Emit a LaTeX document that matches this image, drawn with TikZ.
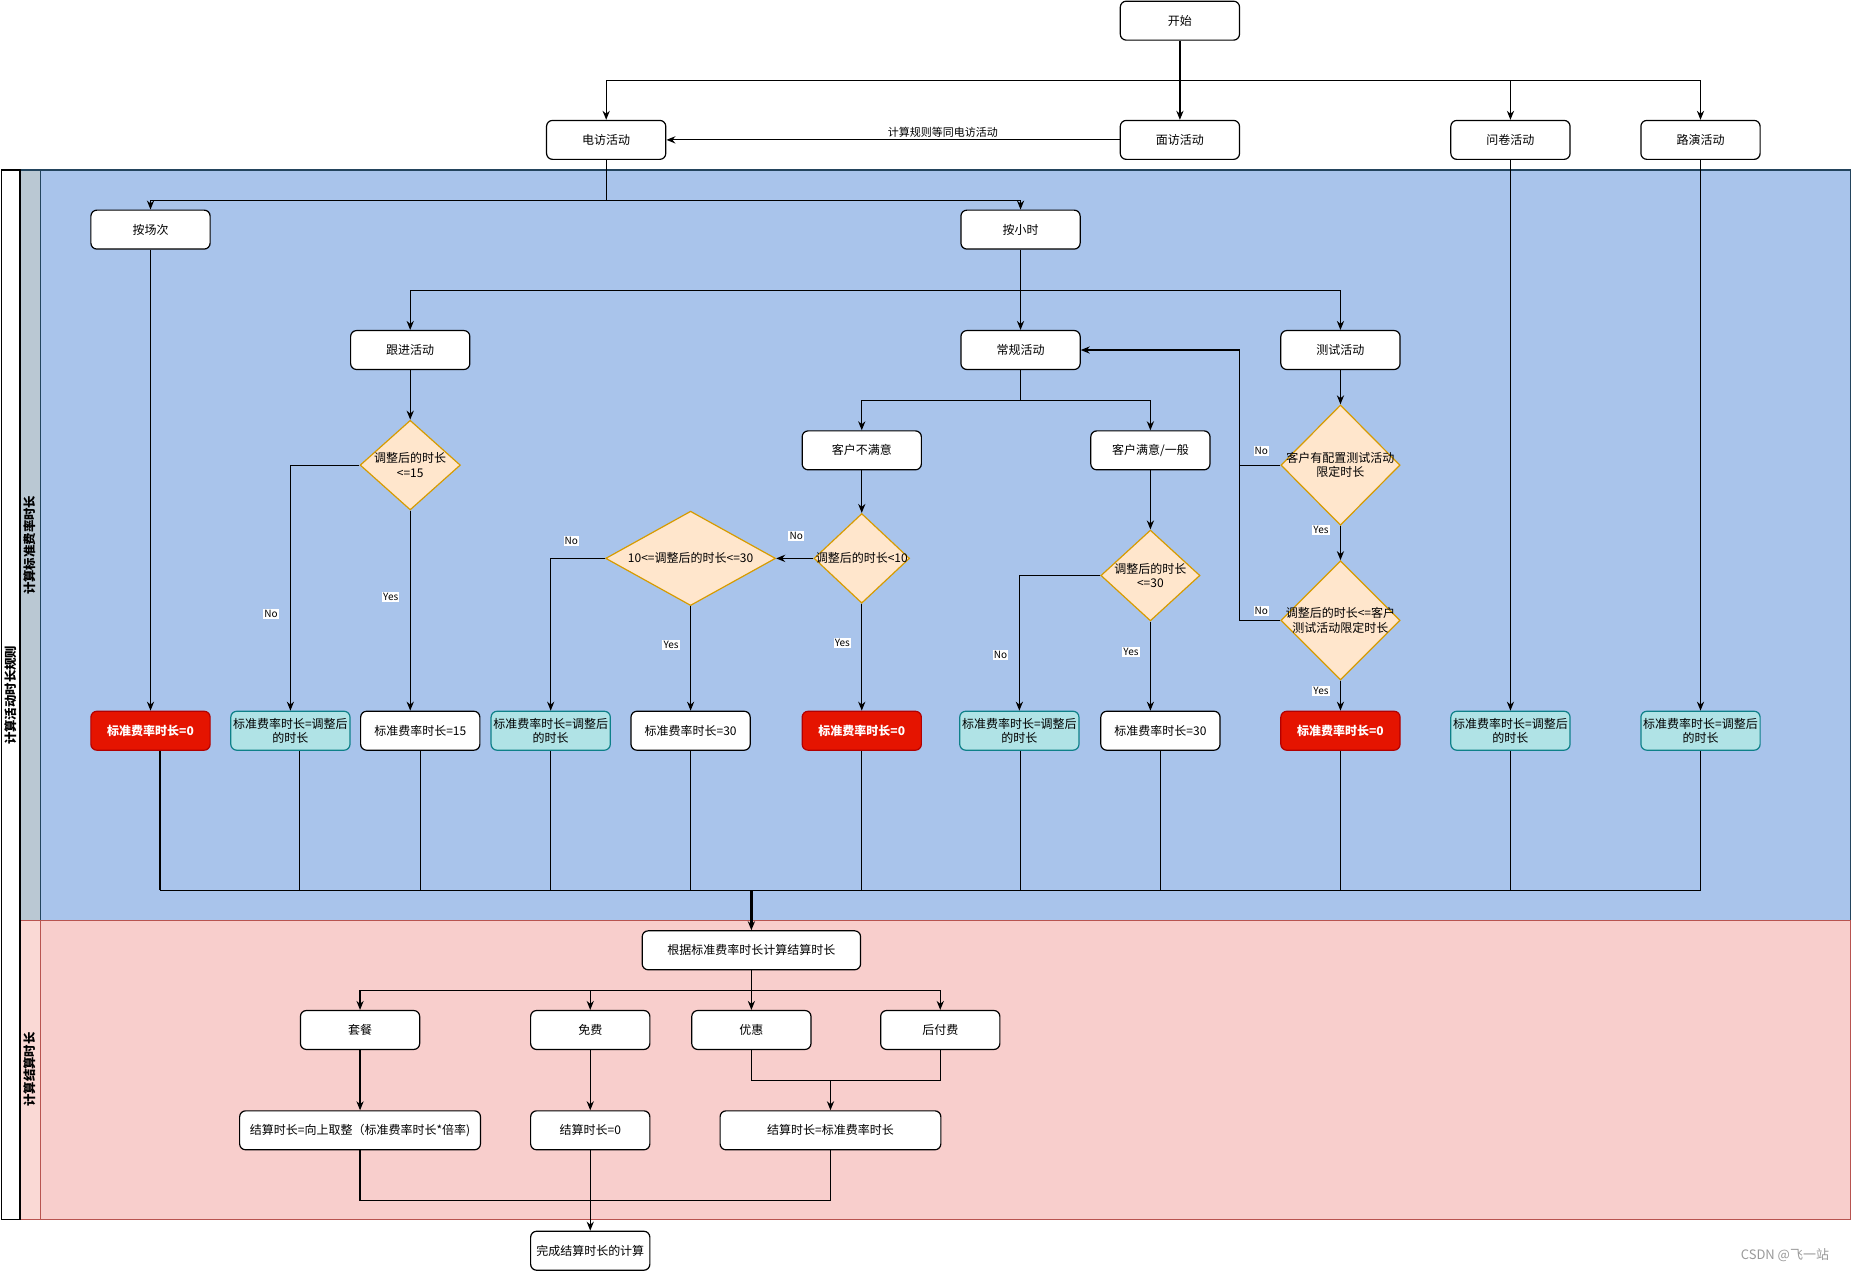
\documentclass[tikz,border=0pt]{standalone}
\usepackage{fontspec}
\setmainfont{Noto Sans CJK SC}
\usetikzlibrary{arrows.meta, shapes.geometric}
\newlength\unitpx
\setlength\unitpx{0.5903pt}
\definecolor{laneblue}{HTML}{A9C4EB}
\definecolor{headblue}{HTML}{BAC8D3}
\definecolor{borderblue}{HTML}{23445D}
\definecolor{lanepink}{HTML}{F8CECC}
\definecolor{headpink}{HTML}{FAD9D5}
\definecolor{borderpink}{HTML}{B85450}
\definecolor{diafill}{HTML}{FFE6CC}
\definecolor{diadraw}{HTML}{D79B00}
\definecolor{tealfill}{HTML}{B0E3E6}
\definecolor{tealdraw}{HTML}{0E8088}
\definecolor{redfill}{HTML}{E51400}
\definecolor{reddraw}{HTML}{B20000}

\tikzset{
	box/.style={draw, fill=white, rounded corners=3pt, minimum width=101\unitpx, minimum height=33\unitpx, inner sep=1pt, align=center, font=\fontsize{6}{7.2}\selectfont},
	zero/.style={box, fill=redfill, draw=reddraw, text=white, font=\fontsize{6}{7.2}\selectfont\bfseries},
	adj/.style={box, fill=tealfill, draw=tealdraw},
	dia/.style={diamond, draw=diadraw, fill=diafill, inner sep=0pt},
	dtext/.style={inner sep=0pt, align=center, font=\fontsize{6}{7.2}\selectfont},
	lbl/.style={fill=white, inner sep=0.6pt, font=\fontsize{5}{6}\selectfont},
	lanetitle/.style={rotate=90, font=\fontsize{6.2}{7.4}\selectfont\bfseries},
}

\begin{document}
\begin{tikzpicture}[>={Stealth[length=4.5pt,width=3.6pt]}, x=\unitpx, y=-\unitpx, line width=0.6pt]
	\useasboundingbox (0,0) rectangle (1568,1077);
	% Pool and lanes
	\fill[headblue] (17,144) rectangle (34,780);
	\fill[laneblue] (34,144) rectangle (1568,780);
	\fill[headpink] (17,780) rectangle (34,1033);
	\fill[lanepink] (34,780) rectangle (1568,1033);
	\draw[borderblue] (17,144) rectangle (1568,780);
	\draw[borderblue] (34,144) -- (34,780);
	\draw[borderpink] (17,780) rectangle (1568,1033);
	\draw[borderpink] (34,780) -- (34,1033);
	\draw (1,144) rectangle (17,1033);
	\node[lanetitle] (pooltitle) at (9,589) {计算活动时长规则};
	\node[lanetitle] (lanetitleA) at (25.5,462) {计算标准费率时长};
	\node[lanetitle] (lanetitleB) at (25.5,906) {计算结算时长};

	% Top row
	\node[box] (start) at (999.5,17.5) {开始};
	\node[box] (dianfang) at (513.5,118.5) {电访活动};
	\node[box] (mianfang) at (999.5,118.5) {面访活动};
	\node[box] (wenjuan) at (1279.5,118.5) {问卷活动};
	\node[box] (luyan) at (1440.5,118.5) {路演活动};
	\coordinate (splitTop) at (999.5,68);
	\draw[->] (start) -- (mianfang);
	\draw[->] (splitTop) -| (dianfang.north);
	\draw[->] (splitTop) -| (wenjuan.north);
	\draw[->] (splitTop) -| (luyan.north);
	\draw[->] (mianfang) -- node[pos=0.39, above=1pt, inner sep=0pt, font=\fontsize{5.5}{6.5}\selectfont] {计算规则等同电访活动} (dianfang);

	% Blue lane
	\node[box] (changci) at (127.5,194.5) {按场次};
	\node[box] (xiaoshi) at (864.5,194.5) {按小时};
	\coordinate (splitA) at (513.5,170);
	\draw (dianfang.south) -- (splitA);
	\draw[->] (splitA) -| (changci.north);
	\draw[->] (splitA) -| (xiaoshi.north);

	\node[box] (genjin) at (347.5,296.5) {跟进活动};
	\node[box] (changgui) at (864.5,296.5) {常规活动};
	\node[box] (ceshi) at (1135.5,296.5) {测试活动};
	\coordinate (splitB) at (864.5,246);
	\draw (xiaoshi.south) -- (splitB);
	\draw[->] (splitB) -| (genjin.north);
	\draw[->] (splitB) -- (changgui.north);
	\draw[->] (splitB) -| (ceshi.north);

	\node[box] (bumanyi) at (730,381.5) {客户不满意};
	\node[box] (manyi) at (974.5,381.5) {客户满意/一般};
	\coordinate (splitC) at (864.5,339);
	\draw (changgui.south) -- (splitC);
	\draw[->] (splitC) -| (bumanyi.north);
	\draw[->] (splitC) -| (manyi.north);

	% Decisions
	\node[dia, minimum width=85\unitpx, minimum height=76\unitpx, label={[dtext]center:调整后的时长\\<=15}] (dGenjin) at (347.5,394) {};
	\node[dia, minimum width=81\unitpx, minimum height=76\unitpx, label={[dtext]center:调整后的时长<10}] (dLess) at (730,473) {};
	\node[dia, minimum width=144\unitpx, minimum height=80\unitpx, label={[dtext]center:10<=调整后的时长<=30}] (dRange) at (585,473) {};
	\node[dia, minimum width=84\unitpx, minimum height=77\unitpx, label={[dtext]center:调整后的时长\\<=30}] (dManyi) at (974.5,487.5) {};
	\node[dia, minimum width=101\unitpx, minimum height=102\unitpx, label={[dtext]center:客户有配置测试活动\\限定时长}] (dPeizhi) at (1135.5,394) {};
	\node[dia, minimum width=101\unitpx, minimum height=101\unitpx, label={[dtext]center:调整后的时长<=客户\\测试活动限定时长}] (dXianding) at (1135.5,525.5) {};

	% Results
	\node[zero] (resChangci) at (127.5,619) {标准费率时长=0};
	\node[adj] (resGenjinNo) at (246,619) {标准费率时长=调整后\\的时长};
	\node[box] (resGenjinYes) at (356,619) {标准费率时长=15};
	\node[adj] (resRangeNo) at (466.5,619) {标准费率时长=调整后\\的时长};
	\node[box] (resRangeYes) at (585,619) {标准费率时长=30};
	\node[zero] (resLess) at (730,619) {标准费率时长=0};
	\node[adj] (resManyiNo) at (863.5,619) {标准费率时长=调整后\\的时长};
	\node[box] (resManyiYes) at (983,619) {标准费率时长=30};
	\node[zero] (resCeshi) at (1135.5,619) {标准费率时长=0};
	\node[adj] (resWenjuan) at (1279.5,619) {标准费率时长=调整后\\的时长};
	\node[adj] (resLuyan) at (1440.5,619) {标准费率时长=调整后\\的时长};

	\draw[->] (changci) -- (resChangci);
	\draw[->] (genjin) -- (dGenjin);
	\draw[->] (dGenjin.west) -| (resGenjinNo.north);
	\draw[->] (dGenjin.south) -- (dGenjin.south |- resGenjinYes.north);
	\draw[->] (bumanyi) -- (dLess);
	\draw[->] (dLess.west) -- (dRange.east);
	\draw[->] (dLess.south) -- (resLess.north);
	\draw[->] (dRange.west) -| (resRangeNo.north);
	\draw[->] (dRange.south) -- (resRangeYes.north);
	\draw[->] (manyi) -- (dManyi);
	\draw[->] (dManyi.west) -| (resManyiNo.north);
	\draw[->] (dManyi.south) -- (dManyi.south |- resManyiYes.north);
	\draw[->] (ceshi) -- (dPeizhi);
	\draw[->] (dPeizhi) -- (dXianding);
	\draw[->] (dXianding) -- (resCeshi);
	\coordinate (back) at (1050,296.5);
	\draw[->] (dPeizhi.west) -| (back) -- (changgui.east);
	\draw (dXianding.west) -| (back);
	\draw[->] (wenjuan) -- (resWenjuan);
	\draw[->] (luyan) -- (resLuyan);

	% Yes / No
	\node[lbl] (noA) at (229.5,520) {No};
	\node[lbl] (yesA) at (331,506) {Yes};
	\node[lbl] (noB) at (484,458) {No};
	\node[lbl] (yesB) at (568.5,546.5) {Yes};
	\node[lbl] (noC) at (674.5,454) {No};
	\node[lbl] (yesC) at (713.5,545) {Yes};
	\node[lbl] (noD) at (847.5,555) {No};
	\node[lbl] (yesD) at (958,552.5) {Yes};
	\node[lbl] (noE) at (1068.5,382) {No};
	\node[lbl] (yesE) at (1119,449) {Yes};
	\node[lbl] (noF) at (1068.5,517.5) {No};
	\node[lbl] (yesF) at (1119,585.5) {Yes};

	% Merge
	\coordinate (merge) at (636.5,754);
	\foreach \r/\dx in {resChangci/8, resGenjinNo/8, resGenjinYes/0, resRangeNo/0, resRangeYes/0, resLess/0, resManyiNo/1, resManyiYes/0, resCeshi/0, resWenjuan/0, resLuyan/0}
		\draw ([xshift=\dx\unitpx]\r.south) -- ([xshift=\dx\unitpx]\r.south |- merge);
	\draw ([xshift=8\unitpx]resChangci.south |- merge) -- (resLuyan.south |- merge);

	% Pink lane
	\node[box, minimum width=185\unitpx] (jisuan) at (636.5,805) {根据标准费率时长计算结算时长};
	\draw[->, line width=1.2pt] (merge) -- (jisuan.north);
	\node[box] (taocan) at (305,872.5) {套餐};
	\node[box] (mianfei) at (500,872.5) {免费};
	\node[box] (youhui) at (636.5,872.5) {优惠};
	\node[box] (houfufei) at (796.5,872.5) {后付费};
	\coordinate (splitD) at (636.5,839);
	\draw (jisuan.south) -- (splitD);
	\draw[->] (splitD) -| (taocan.north);
	\draw[->] (splitD) -| (mianfei.north);
	\draw[->] (splitD) -- (youhui.north);
	\draw[->] (splitD) -| (houfufei.north);

	\node[box, minimum width=204\unitpx] (jsTaocan) at (305,957.5) {结算时长=向上取整（标准费率时长*倍率)};
	\node[box] (jsMianfei) at (500,957.5) {结算时长=0};
	\node[box, minimum width=187\unitpx] (jsBiaozhun) at (703.5,957.5) {结算时长=标准费率时长};
	\draw[->] (taocan) -- (jsTaocan);
	\draw[->] (mianfei) -- (jsMianfei);
	\coordinate (joinE) at (703.5,915);
	\draw (youhui.south) |- (houfufei.south |- joinE) -- (houfufei.south);
	\draw[->] (joinE) -- (jsBiaozhun.north);
	\coordinate (joinF) at (500,1017);
	\draw (jsTaocan.south) |- (jsBiaozhun.south |- joinF) -- (jsBiaozhun.south);

	\node[box] (wancheng) at (500,1059.5) {完成结算时长的计算};
	\draw[->] (jsMianfei) -- (wancheng);

	\node[text=gray!80, font=\fontsize{6.5}{7.5}\selectfont] (mark) at (1512,1063) {CSDN @飞一站};
\end{tikzpicture}
\end{document}
